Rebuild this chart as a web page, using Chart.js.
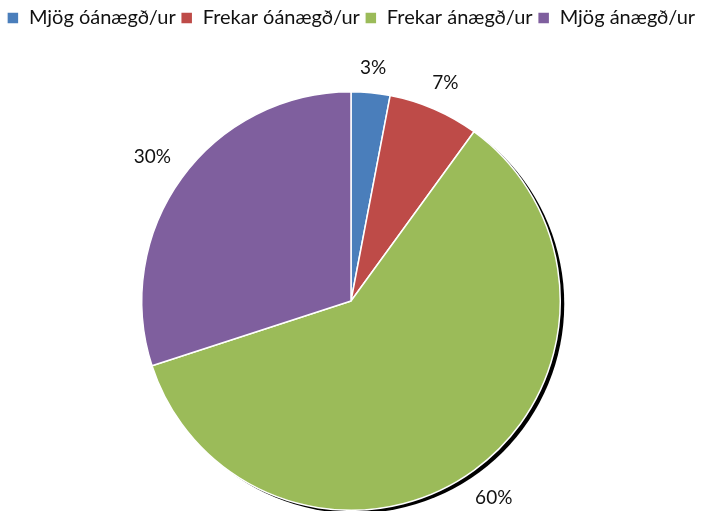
<!DOCTYPE html>
<html><head><meta charset="utf-8">
<script src="https://cdn.jsdelivr.net/npm/chart.js@4/dist/chart.umd.min.js"></script>
<style>html,body{margin:0;padding:0;background:#fff}</style>
</head><body>
<canvas id="c" width="703" height="511" style="display:block;width:703px;height:511px"></canvas>
<script>
const categories = ['Mjög óánægð/ur', 'Frekar óánægð/ur', 'Frekar ánægð/ur', 'Mjög ánægð/ur'];
const values = [3, 7, 60, 30];
const valueLabels = ['3%', '7%', '60%', '30%'];
const colors = ['#4A7EBB', '#BE4B48', '#9BBB59', '#7F5F9E'];

const FONT = 'Lato';

const legendSpacer = {
  id: 'legendSpacer',
  beforeInit(chart) {
    const lg = chart.legend;
    if (!lg) return;
    const origFit = lg.fit;
    lg.fit = function () {
      origFit.call(this);
      this.height += 53;
    };
  }
};

const shadowPlugin = {
  id: 'shadow',
  beforeDatasetsDraw(chart) {
    const arc = chart.getDatasetMeta(0).data[0];
    if (!arc) return;
    const ctx = chart.ctx;
    ctx.save();
    ctx.beginPath();
    ctx.arc(arc.x + 4, arc.y + 3, arc.outerRadius, 0, Math.PI * 2);
    ctx.fillStyle = '#000';
    ctx.fill();
    ctx.restore();
  }
};

const labelPlugin = {
  id: 'outLabels',
  afterDatasetsDraw(chart) {
    const ctx = chart.ctx;
    const meta = chart.getDatasetMeta(0);
    ctx.save();
    ctx.font = '19px ' + FONT;
    ctx.fillStyle = '#111';
    ctx.textAlign = 'center';
    ctx.textBaseline = 'middle';
    meta.data.forEach((arc, i) => {
      const mid = (arc.startAngle + arc.endAngle) / 2;
      const txt = valueLabels[i];
      const w = ctx.measureText(txt).width;
      const h = 14;
      const c = Math.cos(mid), s = Math.sin(mid);
      const d = arc.outerRadius + 17 + Math.abs(c) * w / 2 + Math.abs(s) * h / 2;
      ctx.fillText(txt, arc.x + c * d, arc.y + s * d);
    });
    ctx.restore();
  }
};

new Chart(document.getElementById('c'), {
  type: 'pie',
  data: {
    labels: categories,
    datasets: [{
      data: values,
      backgroundColor: colors,
      borderColor: '#ffffff',
      borderWidth: 1.5
    }]
  },
  options: {
    responsive: false,
    animation: false,
    devicePixelRatio: 1,
    layout: { padding: { top: 3, bottom: 0, left: 0, right: 1 } },
    plugins: {
      legend: {
        position: 'top',
        labels: {
          boxWidth: 12, boxHeight: 12, padding: 5,
          color: '#111',
          font: { family: FONT, size: 20 }
        }
      },
      tooltip: { enabled: false }
    }
  },
  plugins: [legendSpacer, shadowPlugin, labelPlugin]
});
</script>
</body></html>
